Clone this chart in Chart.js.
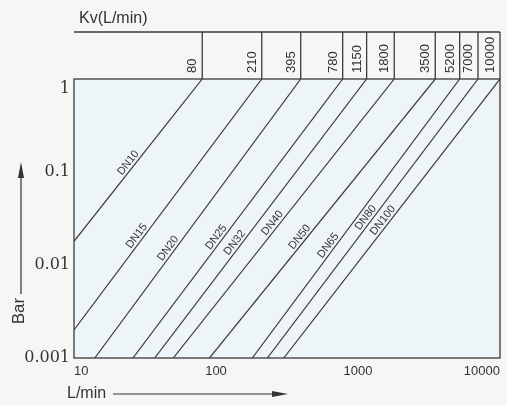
<!DOCTYPE html>
<html>
<head>
<meta charset="utf-8">
<script src="https://cdn.jsdelivr.net/npm/chart.js@4/dist/chart.umd.min.js"></script>
<style>
  html, body { margin: 0; padding: 0; background: #f6f6f5; }
  #wrap { width: 507px; height: 406px; position: relative; }
</style>
</head>
<body>
<div id="wrap"><canvas id="c" width="507" height="406"></canvas></div>
<script>
// ---- data ----
const dnLabels   = ['DN10', 'DN15', 'DN20', 'DN25', 'DN32', 'DN40', 'DN50', 'DN65', 'DN80', 'DN100'];
const kvValues   = [80, 210, 395, 780, 1150, 1800, 3500, 5200, 7000, 10000];   // flow (L/min) where each line reaches 1 bar
const startFlow  = [10, 10, 14, 26, 37, 50, 90, 180, 230, 300];                 // flow (L/min) at lower/left end of each line
const startDrop  = [0.018, 0.002, 0.001, 0.001, 0.001, 0.001, 0.001, 0.001, 0.001, 0.001]; // bar at lower/left end
const endDrop    = [1, 1, 1, 1, 1, 1, 1, 1, 1, 1];                              // bar at upper end
const xTicks      = [10, 100, 1000, 10000];
const xTickLabels = ['10', '100', '1000', '10000'];
const yTicks      = [0.001, 0.01, 0.1, 1];
const yTickLabels = ['0.001', '0.01', '0.1', '1'];

const datasets = dnLabels.map((name, i) => ({
  label: name,
  data: [{ x: startFlow[i], y: startDrop[i] }, { x: kvValues[i], y: endDrop[i] }],
  borderColor: '#3a3a3a',
  borderWidth: 1.2,
  pointRadius: 0,
  fill: false,
  tension: 0
}));

const decor = {
  id: 'decor',
  beforeDraw(chart) {
    const { ctx, chartArea: a } = chart;
    ctx.save();
    ctx.fillStyle = '#f6f6f5';
    ctx.fillRect(0, 0, chart.width, chart.height);
    ctx.fillStyle = '#eef5f8';
    ctx.fillRect(a.left, a.top, a.right - a.left, a.bottom - a.top);
    ctx.restore();
  },
  afterDatasetsDraw(chart, args, opts) {
    const { ctx, chartArea: a, scales: { x, y } } = chart;
    ctx.save();
    ctx.strokeStyle = '#3a3a3a';
    ctx.lineWidth = 1.3;
    ctx.strokeRect(a.left, a.top, a.right - a.left, a.bottom - a.top);

    // Kv header
    const hTop = a.top - 47;
    ctx.beginPath();
    ctx.moveTo(a.left, hTop); ctx.lineTo(a.right, hTop);
    ctx.stroke();
    ctx.fillStyle = '#333';
    ctx.font = '16px "Liberation Sans", Arial, sans-serif';
    ctx.textAlign = 'left';
    ctx.textBaseline = 'alphabetic';
    ctx.fillText('Kv(L/min)', a.left + 5, hTop - 9);
    ctx.font = '13px "Liberation Sans", Arial, sans-serif';
    kvValues.forEach(kv => {
      const px = x.getPixelForValue(kv);
      ctx.beginPath();
      ctx.moveTo(px, hTop); ctx.lineTo(px, a.top);
      ctx.stroke();
      ctx.save();
      ctx.translate(px - 9.5, a.top - 6);
      ctx.rotate(-Math.PI / 2);
      ctx.textAlign = 'left';
      ctx.textBaseline = 'middle';
      ctx.fillText(String(kv), 0, 0);
      ctx.restore();
    });

    // DN labels along the lines
    ctx.font = '11px "Liberation Sans", Arial, sans-serif';
    chart.data.datasets.forEach((ds, i) => {
      const p0 = ds.data[0], p1 = ds.data[1];
      const x0 = x.getPixelForValue(p0.x), y0 = y.getPixelForValue(p0.y);
      const x1 = x.getPixelForValue(p1.x), y1 = y.getPixelForValue(p1.y);
      const t = opts.labelAt[i];
      const lx = x0 + (x1 - x0) * t, ly = y0 + (y1 - y0) * t;
      const ang = Math.atan2(y1 - y0, x1 - x0);
      ctx.save();
      ctx.translate(lx, ly);
      ctx.rotate(ang);
      ctx.textAlign = 'center';
      ctx.textBaseline = 'bottom';
      ctx.fillText(ds.label, 0, -0.5);
      ctx.restore();
    });
    ctx.restore();
  },
  afterDraw(chart) {
    const { ctx } = chart;
    ctx.save();
    ctx.fillStyle = '#333';
    ctx.strokeStyle = '#333';
    ctx.lineWidth = 1.2;
    // y-axis title + arrow
    ctx.save();
    ctx.translate(19, 311);
    ctx.rotate(-Math.PI / 2);
    ctx.font = '17px "Liberation Sans", Arial, sans-serif';
    ctx.textAlign = 'center';
    ctx.textBaseline = 'middle';
    ctx.fillText('Bar', 0, 0);
    ctx.restore();
    ctx.beginPath(); ctx.moveTo(21, 294); ctx.lineTo(21, 172); ctx.stroke();
    ctx.beginPath(); ctx.moveTo(21, 162); ctx.lineTo(24, 178); ctx.lineTo(18, 178); ctx.closePath(); ctx.fill();
    // x-axis title + arrow
    ctx.font = '16px "Liberation Sans", Arial, sans-serif';
    ctx.textAlign = 'left';
    ctx.textBaseline = 'middle';
    ctx.fillText('L/min', 67, 394);
    ctx.beginPath(); ctx.moveTo(113, 394); ctx.lineTo(278, 394); ctx.stroke();
    ctx.beginPath(); ctx.moveTo(288, 394); ctx.lineTo(272, 391); ctx.lineTo(272, 397); ctx.closePath(); ctx.fill();
    ctx.restore();
  }
};

new Chart(document.getElementById('c'), {
  type: 'line',
  data: { datasets },
  plugins: [decor],
  options: {
    responsive: false,
    animation: false,
    devicePixelRatio: 1,
    layout: { padding: { top: 79, right: 7, left: 0, bottom: 0 } },
    plugins: {
      legend: { display: false },
      tooltip: { enabled: false },
      decor: { labelAt: [0.46, 0.36, 0.38, 0.42, 0.40, 0.47, 0.42, 0.39, 0.49, 0.48] }
    },
    scales: {
      x: {
        type: 'logarithmic',
        min: 10, max: 10000,
        grid: { display: false, drawTicks: false },
        border: { display: false },
        afterBuildTicks: s => { s.ticks = xTicks.map(v => ({ value: v })); },
        afterFit: s => { s.height = 48; },
        ticks: {
          align: 'inner',
          padding: 6,
          color: '#333',
          font: { family: '"Liberation Sans", Arial, sans-serif', size: 13 },
          callback: v => { const k = xTicks.indexOf(v); return k >= 0 ? xTickLabels[k] : ''; }
        }
      },
      y: {
        type: 'logarithmic',
        min: 0.001, max: 1,
        grid: { display: false, drawTicks: false },
        border: { display: false },
        afterBuildTicks: s => { s.ticks = yTicks.map(v => ({ value: v })); },
        afterFit: s => { s.width = 74; },
        ticks: {
          padding: 4,
          color: '#333',
          font: { family: '"DejaVu Serif", serif', size: 16 },
          callback: v => {
            const k = yTicks.indexOf(v);
            if (k < 0) return '';
            return v === 1 ? ['', yTickLabels[k]] : yTickLabels[k];
          }
        }
      }
    }
  }
});
</script>
</body>
</html>
